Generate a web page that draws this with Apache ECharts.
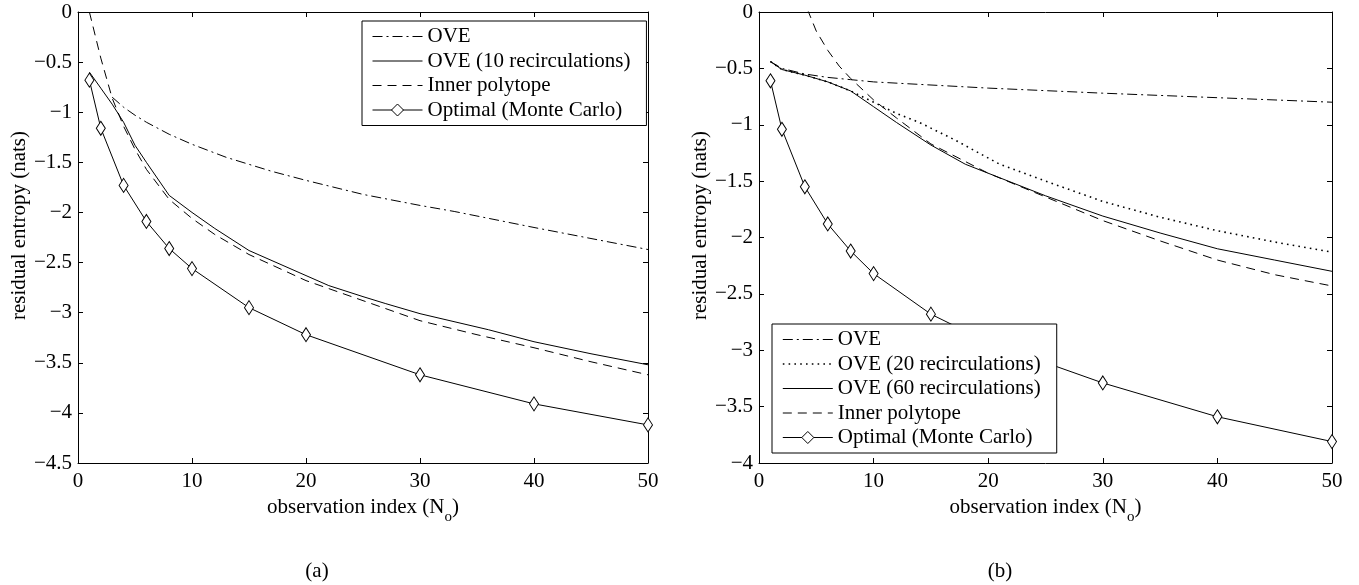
<!DOCTYPE html>
<html lang="en">
<head>
	<meta charset="UTF-8">
	<title>Residual entropy</title>
	<style>
	body, div {
		margin: 0;
		padding: 0;
		background: #fff;
	}
	#echart {
		width: 1359px;
		height: 585px;
	}
	</style>
</head>
<body>
	<div id="echart"></div>

	<script src="https://cdn.jsdelivr.net/npm/echarts@6/dist/echarts.min.js"></script>

	<script>
// ---- plot (a) ----
var oveA_x = [3, 4, 5, 6, 8, 10, 13, 17, 20, 25, 30, 33, 40, 45, 50];
var oveA_y = [-0.85, -0.95, -1.03, -1.10, -1.22, -1.32, -1.45, -1.59, -1.68, -1.82, -1.93, -1.99, -2.15, -2.26, -2.37];

var ove10A_x = [1, 2, 3, 4, 5, 6, 8, 10, 12, 15, 20, 22, 25, 27, 30, 36, 40, 45, 50];
var ove10A_y = [-0.60, -0.76, -0.92, -1.10, -1.33, -1.50, -1.83, -2.00, -2.16, -2.38, -2.63, -2.73, -2.84, -2.91, -3.01, -3.17, -3.29, -3.41, -3.52];

var innerA_x = [1, 2, 3, 4, 5, 6, 8, 10, 12, 15, 20, 25, 30, 35, 40, 45, 50];
var innerA_y = [0.0, -0.46, -0.86, -1.14, -1.37, -1.57, -1.87, -2.06, -2.22, -2.42, -2.68, -2.88, -3.08, -3.22, -3.35, -3.49, -3.62];

var optA_x = [1, 2, 4, 6, 8, 10, 15, 20, 30, 40, 50];
var optA_y = [-0.68, -1.16, -1.73, -2.09, -2.36, -2.56, -2.95, -3.22, -3.62, -3.91, -4.12];

// ---- plot (b) ----
var oveB_x = [1, 2, 4, 6, 8, 10, 20, 30, 40, 50];
var oveB_y = [-0.44, -0.50, -0.55, -0.58, -0.60, -0.62, -0.675, -0.72, -0.76, -0.80];

var ove20B_x = [1, 2, 4, 6, 8, 10, 12, 14, 17, 21, 25, 30, 35, 40, 45, 50];
var ove20B_y = [-0.44, -0.51, -0.56, -0.62, -0.70, -0.80, -0.90, -0.98, -1.13, -1.35, -1.50, -1.68, -1.82, -1.94, -2.04, -2.13];

var ove60B_x = [1, 2, 4, 6, 8, 10, 12, 15, 18, 21, 25, 30, 35, 40, 45, 50];
var ove60B_y = [-0.44, -0.51, -0.56, -0.62, -0.70, -0.84, -0.98, -1.18, -1.35, -1.47, -1.63, -1.81, -1.96, -2.10, -2.20, -2.30];

var innerB_x = [3, 4, 5, 6, 7, 8, 10, 12, 15, 20, 25, 30, 35, 40, 45, 50];
var innerB_y = [0.40, 0.08, -0.17, -0.34, -0.48, -0.59, -0.78, -0.94, -1.17, -1.43, -1.64, -1.85, -2.03, -2.20, -2.33, -2.43];

var optB_x = [1, 2, 4, 6, 8, 10, 15, 20, 30, 40, 50];
var optB_y = [-0.61, -1.04, -1.55, -1.88, -2.12, -2.32, -2.68, -2.93, -3.29, -3.59, -3.81];

var legendA = ['OVE', 'OVE (10 recirculations)', 'Inner polytope', 'Optimal (Monte Carlo)'];
var legendB = ['OVE', 'OVE (20 recirculations)', 'OVE (60 recirculations)', 'Inner polytope', 'Optimal (Monte Carlo)'];

var FONT = '"Liberation Serif", "Times New Roman", serif';
var FS = 21;

function pairs(xs, ys) {
	return xs.map(function (x, i) { return [x, ys[i]]; });
}

function minusFmt(v) {
	return v === 0 ? '0' : String(v).replace('-', '\u2212');
}

var DASHDOT = [10, 4, 2, 4];
var DOTTED = [1.6, 4.2];
var DASHED = [9, 6];

function lineSeries(name, data, axis, dash, width) {
	return {
		name: name,
		type: 'line',
		xAxisIndex: axis,
		yAxisIndex: axis,
		data: data,
		symbol: 'none',
		showSymbol: false,
		itemStyle: { color: '#000' },
		lineStyle: { color: '#000', width: width || 1, type: dash || 'solid' },
		z: 3
	};
}

function optSeries(data, axis) {
	return {
		name: 'Optimal (Monte Carlo)',
		type: 'line',
		xAxisIndex: axis,
		yAxisIndex: axis,
		data: data,
		symbol: 'diamond',
		symbolSize: [9, 14],
		itemStyle: { color: '#fff', borderColor: '#000', borderWidth: 1 },
		lineStyle: { color: '#000', width: 1 },
		z: 4
	};
}

function xAxes(grid) {
	var base = {
		gridIndex: grid,
		type: 'value',
		min: 0,
		max: 50,
		interval: 10,
		splitLine: { show: false },
		axisLine: { show: true, onZero: false, lineStyle: { color: '#000', width: 1 } },
		axisTick: { show: true, inside: true, length: 5, lineStyle: { color: '#000' } }
	};
	var bottom = Object.assign({}, base, {
		position: 'bottom',
		axisLabel: { color: '#000', fontFamily: FONT, fontSize: FS, margin: 8 },
		name: '{m|observation index (N}{sub|o}{m|)}',
		nameLocation: 'middle',
		nameGap: 27,
		nameTextStyle: {
			color: '#000',
			fontFamily: FONT,
			fontSize: FS,
			rich: {
				m: { fontFamily: FONT, fontSize: FS, color: '#000', lineHeight: 22, padding: [0, 0, 8, 0] },
				sub: { fontFamily: FONT, fontSize: 15, color: '#000', lineHeight: 15, padding: [12, 0, 0, 0] }
			}
		}
	});
	var top = Object.assign({}, base, {
		position: 'top',
		axisLabel: { show: false }
	});
	return [bottom, top];
}

function yAxes(grid, min) {
	var base = {
		gridIndex: grid,
		type: 'value',
		min: min,
		max: 0,
		interval: 0.5,
		splitLine: { show: false },
		axisLine: { show: true, onZero: false, lineStyle: { color: '#000', width: 1 } },
		axisTick: { show: true, inside: true, length: 5, lineStyle: { color: '#000' } }
	};
	var left = Object.assign({}, base, {
		position: 'left',
		axisLabel: { color: '#000', fontFamily: FONT, fontSize: FS, margin: 6, formatter: minusFmt },
		name: 'residual entropy (nats)',
		nameLocation: 'middle',
		nameGap: 48,
		nameTextStyle: { color: '#000', fontFamily: FONT, fontSize: FS, padding: [0, 0, 0, 24] }
	});
	var right = Object.assign({}, base, {
		position: 'right',
		axisLabel: { show: false }
	});
	return [left, right];
}

function legendBox(names, left, top) {
	// lines without markers: hide the legend symbol, keep the line sample
	var data = names.map(function (n) {
		if (n === 'Optimal (Monte Carlo)') return n;
		var item = { name: n, itemStyle: { opacity: 0, color: 'rgba(0,0,0,0)', borderWidth: 0 } };
		if (n === 'OVE (20 recirculations)') item.lineStyle = { width: 1.6 };
		return item;
	});
	return {
		data: data,
		orient: 'vertical',
		left: left,
		top: top,
		itemWidth: 50,
		itemHeight: 15,
		itemGap: 3.5,
		padding: [5, 16, 5, 10],
		backgroundColor: '#fff',
		borderColor: '#000',
		borderWidth: 1,
		borderRadius: 0,
		selectedMode: false,
		lineStyle: { width: 1 },
		itemStyle: { borderWidth: 1 },
		textStyle: { color: '#000', fontFamily: FONT, fontSize: FS },
		z: 10
	};
}

var myEchart = echarts.init(document.getElementById('echart'), null, { renderer: 'canvas' });

// axis order: 0 bottom(a), 1 top(a), 2 bottom(b), 3 top(b)
var xa = xAxes(0).concat(xAxes(1));
var ya = yAxes(0, -4.5).concat(yAxes(1, -4));

option = {
	animation: false,
	backgroundColor: '#fff',
	grid: [
		{ left: 78, top: 12, width: 570, height: 451 },
		{ left: 759, top: 12, width: 573, height: 451 }
	],
	xAxis: xa,
	yAxis: ya,
	legend: [
		legendBox(legendA, 362, 21),
		legendBox(legendB, 772, 324)
	],
	graphic: [
		{ type: 'text', x: 317, y: 571, style: { text: '(a)', font: '21px "Liberation Serif"', fill: '#000', textAlign: 'center', textVerticalAlign: 'middle', align: 'center', verticalAlign: 'middle' } },
		{ type: 'text', x: 1000, y: 571, style: { text: '(b)', font: '21px "Liberation Serif"', fill: '#000', textAlign: 'center', textVerticalAlign: 'middle', align: 'center', verticalAlign: 'middle' } }
	],
	series: [
		lineSeries('OVE', pairs(oveA_x, oveA_y), 0, DASHDOT),
		lineSeries('OVE (10 recirculations)', pairs(ove10A_x, ove10A_y), 0),
		lineSeries('Inner polytope', pairs(innerA_x, innerA_y), 0, DASHED),
		optSeries(pairs(optA_x, optA_y), 0),

		lineSeries('OVE', pairs(oveB_x, oveB_y), 2, DASHDOT),
		lineSeries('OVE (20 recirculations)', pairs(ove20B_x, ove20B_y), 2, DOTTED, 1.6),
		lineSeries('OVE (60 recirculations)', pairs(ove60B_x, ove60B_y), 2),
		lineSeries('Inner polytope', pairs(innerB_x, innerB_y), 2, DASHED),
		optSeries(pairs(optB_x, optB_y), 2)
	]
};

myEchart.setOption(option);
	</script>
</body>
</html>
